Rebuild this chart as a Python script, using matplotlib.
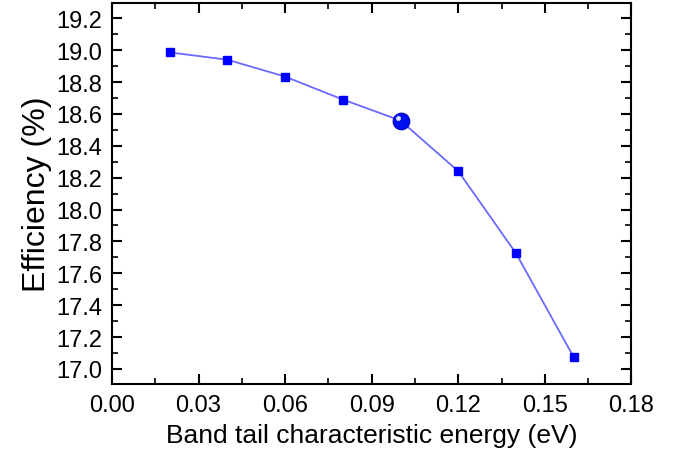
import matplotlib
matplotlib.use("Agg")
import matplotlib.pyplot as plt
import matplotlib.transforms as mtransforms
from matplotlib.ticker import MultipleLocator, FormatStrFormatter

energy = [0.02, 0.04, 0.06, 0.08, 0.10, 0.12, 0.14, 0.16]
efficiency = [18.986, 18.94, 18.834, 18.69, 18.558, 18.24, 17.725, 17.073]
highlight_x = [0.10]
highlight_y = [18.558]

plt.rcParams['font.family'] = ['Liberation Sans', 'DejaVu Sans']

fig = plt.figure(figsize=(6.89, 4.60), dpi=100)
ax = fig.add_axes([0.1625, 0.163, 0.754, 0.828])

ax.plot(energy, efficiency, color='#6a6aff', lw=1.3, marker='s', ms=6,
        mfc='#0000ff', mec='#0000ff', zorder=3)
ax.plot(highlight_x, highlight_y, 'o', ms=12, mfc='#0010f0', mec='#0000c0', mew=0.8, zorder=4)
off = mtransforms.offset_copy(ax.transData, fig=fig, x=-2.0, y=1.6, units='points')
ax.plot(highlight_x, highlight_y, 'o', ms=3.5, mfc='#dfe6ff', mec='none', zorder=5, transform=off)

ax.set_xlim(0.0, 0.18)
ax.set_ylim(16.905, 19.295)
ax.xaxis.set_major_locator(MultipleLocator(0.03))
ax.xaxis.set_minor_locator(MultipleLocator(0.015))
ax.yaxis.set_major_locator(MultipleLocator(0.2))
ax.yaxis.set_minor_locator(MultipleLocator(0.1))
ax.xaxis.set_major_formatter(FormatStrFormatter('%.2f'))
ax.yaxis.set_major_formatter(FormatStrFormatter('%.1f'))

ax.tick_params(which='both', direction='in', top=True, right=True, colors='black')
ax.tick_params(which='major', length=7, width=1.5, labelsize=17, pad=7)
ax.tick_params(which='minor', length=4, width=1.2)
for s in ax.spines.values():
    s.set_linewidth(1.5)

ax.set_xlabel('Band tail characteristic energy (eV)', fontsize=19, labelpad=5)
ax.set_ylabel('Efficiency (%)', fontsize=23, labelpad=3)

fig.savefig('out.png', dpi=100)
